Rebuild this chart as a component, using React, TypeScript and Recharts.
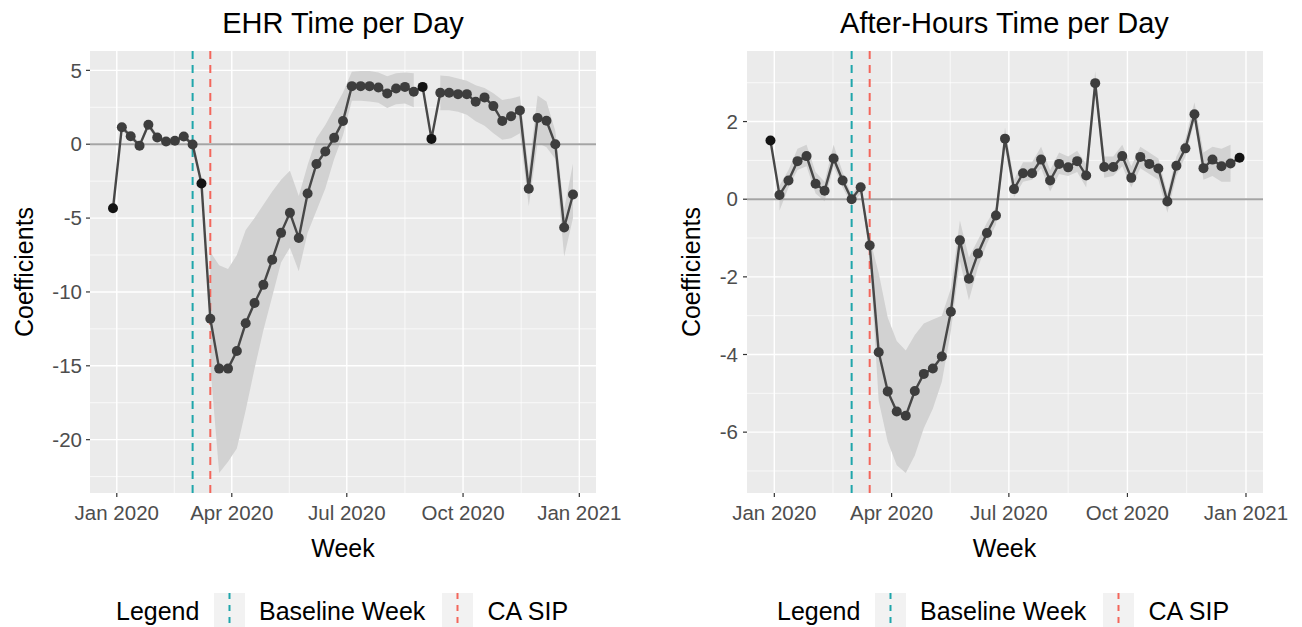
import {
  Area,
  CartesianGrid,
  ComposedChart,
  Line,
  ReferenceLine,
  XAxis,
  YAxis,
} from "recharts";

// week start dates (one point per week)
const weeks = [
  "2019-12-29", "2020-01-05", "2020-01-12", "2020-01-19", "2020-01-26",
  "2020-02-02", "2020-02-09", "2020-02-16", "2020-02-23", "2020-03-01",
  "2020-03-08", "2020-03-15", "2020-03-22", "2020-03-29", "2020-04-05",
  "2020-04-12", "2020-04-19", "2020-04-26", "2020-05-03", "2020-05-10",
  "2020-05-17", "2020-05-24", "2020-05-31", "2020-06-07", "2020-06-14",
  "2020-06-21", "2020-06-28", "2020-07-05", "2020-07-12", "2020-07-19",
  "2020-07-26", "2020-08-02", "2020-08-09", "2020-08-16", "2020-08-23",
  "2020-08-30", "2020-09-06", "2020-09-13", "2020-09-20", "2020-09-27",
  "2020-10-04", "2020-10-11", "2020-10-18", "2020-10-25", "2020-11-01",
  "2020-11-08", "2020-11-15", "2020-11-22", "2020-11-29", "2020-12-06",
  "2020-12-13", "2020-12-20", "2020-12-27",
];

const ehrCoef = [
  -4.34, 1.15, 0.54, -0.1, 1.32, 0.45, 0.18, 0.23, 0.52, -0.02,
  -2.66, -11.81, -15.19, -15.19, -14.0, -12.12, -10.75, -9.52, -7.82, -6.0,
  -4.64, -6.35, -3.34, -1.34, -0.49, 0.43, 1.57, 3.93, 3.93, 3.93,
  3.84, 3.43, 3.77, 3.88, 3.55, 3.88, 0.36, 3.48, 3.48, 3.39,
  3.39, 2.87, 3.17, 2.58, 1.57, 1.89, 2.29, -3.02, 1.78, 1.59,
  0.0, -5.64, -3.4,
];
const ehrLow = [
  null, 0.95, 0.35, -0.3, 1.1, 0.25, 0.0, 0.05, 0.35, -0.2,
  null, -15.0, -22.25, -21.5, -20.6, -18.0, -15.2, -12.6, -10.3, -8.0,
  -7.0, -8.6, -6.0, -4.5, -3.0, -1.0, 0.6, 2.95, 2.95, 2.9,
  2.8, 2.45, 2.7, 2.75, 2.5, null, null, 2.3, 2.3, 2.2,
  2.0, 1.55, 1.25, 0.75, 0.3, 0.4, 0.75, -4.2, 0.1, -0.2,
  -1.0, -7.6, -5.0,
];
const ehrHigh = [
  null, 1.35, 0.75, 0.1, 1.5, 0.65, 0.35, 0.4, 0.7, 0.15,
  null, -7.3, -8.2, -8.45, -7.5, -5.8, -5.0, -4.1, -3.2, -2.4,
  -1.8, -3.5, -1.4, 0.4, 1.3, 2.4, 3.5, 4.9, 4.95, 4.95,
  4.85, 4.6, 4.8, 4.85, 4.8, null, null, 4.65, 4.6, 4.45,
  4.3, 4.0, 3.8, 3.45, 3.0, 3.1, 3.25, -1.8, 3.3, 2.9,
  0.9, -4.4, -1.3,
];

const afterCoef = [
  1.51, 0.11, 0.48, 0.98, 1.11, 0.4, 0.22, 1.05, 0.48, 0.0,
  0.31, -1.19, -3.94, -4.95, -5.47, -5.58, -4.94, -4.5, -4.36, -4.05,
  -2.9, -1.06, -2.05, -1.4, -0.87, -0.42, 1.56, 0.26, 0.67, 0.67,
  1.02, 0.48, 0.91, 0.82, 0.98, 0.61, 2.99, 0.83, 0.83, 1.11,
  0.55, 1.09, 0.91, 0.79, -0.06, 0.86, 1.31, 2.19, 0.8, 1.02,
  0.85, 0.92, 1.07,
];
const afterLow = [
  null, -0.3, 0.3, 0.75, 0.85, 0.15, -0.05, 0.85, 0.3, -0.15,
  0.15, -1.4, -5.2, -6.25, -6.85, -7.05, -6.6, -5.9, -5.4, -4.7,
  -3.4, -1.6, -2.6, -1.75, -1.15, -0.65, 1.3, 0.05, 0.45, 0.5,
  0.8, 0.2, 0.65, 0.6, 0.7, 0.3, 2.75, 0.55, 0.6, 0.85,
  0.3, 0.8, 0.65, 0.5, -0.35, 0.6, 1.1, 2.0, 0.5, 0.6,
  0.45, 0.45, null,
];
const afterHigh = [
  null, 0.35, 0.75, 1.3, 1.4, 0.7, 0.45, 1.4, 0.7, 0.1,
  0.45, -1.0, -1.9, -3.05, -3.65, -3.9, -3.5, -3.2, -3.1, -3.0,
  -2.3, -0.55, -1.5, -1.05, -0.6, -0.2, 1.85, 0.5, 0.95, 0.95,
  1.35, 0.75, 1.2, 1.1, 1.25, 0.9, 3.3, 1.1, 1.1, 1.4,
  0.85, 1.35, 1.2, 1.05, 0.15, 1.1, 1.55, 2.5, 1.2, 1.35,
  1.3, 1.4, null,
];

const xTickDates = ["2020-01-01", "2020-04-01", "2020-07-01", "2020-10-01", "2021-01-01"];
const xTickLabels = ["Jan 2020", "Apr 2020", "Jul 2020", "Oct 2020", "Jan 2021"];
const ehrYTicks = [5, 0, -5, -10, -15, -20];
const ehrYMinor = [2.5, -2.5, -7.5, -12.5, -17.5, -22.5];
const afterYTicks = [2, 0, -2, -4, -6];
const afterYMinor = [3, 1, -1, -3, -5, -7];

const baselineWeek = "2020-03-01";
const sipWeek = "2020-03-15";

const TEAL = "#1fa6ab";
const RED = "#f3665b";
const FONT = "'Liberation Sans', Arial, sans-serif";

const toTime = (d: string) => Date.parse(d + "T00:00:00Z");
const xTickTimes = xTickDates.map(toTime);
const xMinorTimes = xTickTimes.slice(1).map((t, i) => (t + xTickTimes[i]) / 2);

type Row = { t: number; coef: number; lo: number | null; hi: number | null };

function buildRows(coef: number[], lo: (number | null)[], hi: (number | null)[]): Row[] {
  return weeks.map((w, i) => ({ t: toTime(w), coef: coef[i], lo: lo[i], hi: hi[i] }));
}

// ggplot style 5% expansion
function expand(min: number, max: number): [number, number] {
  const pad = (max - min) * 0.05;
  return [min - pad, max + pad];
}

const renderDot = (props: any) => {
  const { cx, cy, payload, index } = props;
  if (cx == null || cy == null) return <g key={`d${index}`} />;
  return (
    <circle
      key={`d${index}`}
      cx={cx}
      cy={cy}
      r={5}
      fill={payload.lo == null ? "#141414" : "#3d3d3d"}
    />
  );
};

type PanelProps = {
  rows: Row[];
  yTicks: number[];
  yMinor: number[];
  marginLeft: number;
  marginRight: number;
  yTickMargin: number;
};

function Panel({ rows, yTicks, yMinor, marginLeft, marginRight, yTickMargin }: PanelProps) {
  const values: number[] = [];
  rows.forEach((r) => {
    values.push(r.coef);
    if (r.lo != null) values.push(r.lo);
    if (r.hi != null) values.push(r.hi);
  });
  const yDomain = expand(Math.min(...values), Math.max(...values));
  const xDomain = expand(rows[0].t, rows[rows.length - 1].t);

  return (
    <ComposedChart
      width={651}
      height={627}
      data={rows}
      margin={{ top: 51, right: marginRight, bottom: 104, left: marginLeft }}
    >
      <CartesianGrid
        fill="#EBEBEB"
        fillOpacity={1}
        stroke="#FFFFFF"
        strokeWidth={0.7}
        horizontalValues={yMinor}
        verticalValues={xMinorTimes}
      />
      <CartesianGrid
        stroke="#FFFFFF"
        strokeWidth={1.4}
        horizontalValues={yTicks}
        verticalValues={xTickTimes}
      />
      <XAxis
        dataKey="t"
        type="number"
        domain={xDomain}
        allowDataOverflow
        ticks={xTickTimes}
        interval={0}
        tickFormatter={(v: number) => xTickLabels[xTickTimes.indexOf(v)] ?? ""}
        tick={{ fill: "#4D4D4D", fontSize: 20.5 }}
        tickLine={{ stroke: "#333333", strokeWidth: 1.2 }}
        tickSize={4}
        tickMargin={8}
        axisLine={false}
        height={30}
      />
      <YAxis
        type="number"
        domain={yDomain}
        allowDataOverflow
        ticks={yTicks}
        interval={0}
        tick={{ fill: "#4D4D4D", fontSize: 20.5 }}
        tickLine={{ stroke: "#333333", strokeWidth: 1.2 }}
        tickSize={4}
        tickMargin={yTickMargin}
        axisLine={false}
        width={60}
      />
      <Area
        dataKey={(r: Row) => (r.lo == null || r.hi == null ? null : [r.lo, r.hi])}
        type="linear"
        fill="#D2D2D2"
        fillOpacity={1}
        stroke="none"
        connectNulls={false}
        activeDot={false}
        isAnimationActive={false}
      />
      <ReferenceLine y={0} stroke="#A4A4A4" strokeWidth={2} />
      <ReferenceLine x={toTime(baselineWeek)} stroke={TEAL} strokeWidth={2} strokeDasharray="8 6" />
      <ReferenceLine x={toTime(sipWeek)} stroke={RED} strokeWidth={2} strokeDasharray="8 6" />
      <Line
        dataKey="coef"
        type="linear"
        stroke="#474747"
        strokeWidth={2.4}
        dot={renderDot}
        activeDot={false}
        isAnimationActive={false}
      />
    </ComposedChart>
  );
}

function LegendRow({ x }: { x: number }) {
  const keyTop = 593;
  return (
    <g>
      <text x={x} y={620} fontSize={25} fill="#000">Legend</text>
      <rect x={x + 98} y={keyTop} width={31} height={40} fill="#F2F2F2" />
      <line x1={x + 113.5} x2={x + 113.5} y1={keyTop} y2={keyTop + 40} stroke={TEAL} strokeWidth={2} strokeDasharray="6 6" />
      <text x={x + 143} y={620} fontSize={25} fill="#000">Baseline Week</text>
      <rect x={x + 326} y={keyTop} width={31} height={40} fill="#F2F2F2" />
      <line x1={x + 341.5} x2={x + 341.5} y1={keyTop} y2={keyTop + 40} stroke={RED} strokeWidth={2} strokeDasharray="6 6" />
      <text x={x + 371.5} y={620} fontSize={25} fill="#000">CA SIP</text>
    </g>
  );
}

export default function App() {
  const ehrRows = buildRows(ehrCoef, ehrLow, ehrHigh);
  const afterRows = buildRows(afterCoef, afterLow, afterHigh);

  return (
    <div
      style={{
        position: "absolute",
        left: 0,
        top: 0,
        width: 1302,
        height: 627,
        background: "#FFFFFF",
        fontFamily: FONT,
        overflow: "hidden",
      }}
    >
      <div style={{ position: "absolute", left: 0, top: 0 }}>
        <Panel rows={ehrRows} yTicks={ehrYTicks} yMinor={ehrYMinor} marginLeft={30} marginRight={55} yTickMargin={4} />
      </div>
      <div style={{ position: "absolute", left: 651, top: 0 }}>
        <Panel rows={afterRows} yTicks={afterYTicks} yMinor={afterYMinor} marginLeft={36} marginRight={39} yTickMargin={5} />
      </div>
      <svg
        width={1302}
        height={627}
        style={{ position: "absolute", left: 0, top: 0, pointerEvents: "none", fontFamily: FONT }}
      >
        <text x={343} y={33} fontSize={29} textAnchor="middle" fill="#000">EHR Time per Day</text>
        <text x={1004.5} y={33} fontSize={29} textAnchor="middle" fill="#000">After-Hours Time per Day</text>
        <text x={343} y={557} fontSize={25} textAnchor="middle" fill="#000">Week</text>
        <text x={1004.5} y={557} fontSize={25} textAnchor="middle" fill="#000">Week</text>
        <text x={33} y={272} fontSize={25} textAnchor="middle" fill="#000" transform="rotate(-90 33 272)">Coefficients</text>
        <text x={699.5} y={272} fontSize={25} textAnchor="middle" fill="#000" transform="rotate(-90 699.5 272)">Coefficients</text>
        <LegendRow x={116} />
        <LegendRow x={777} />
      </svg>
    </div>
  );
}
